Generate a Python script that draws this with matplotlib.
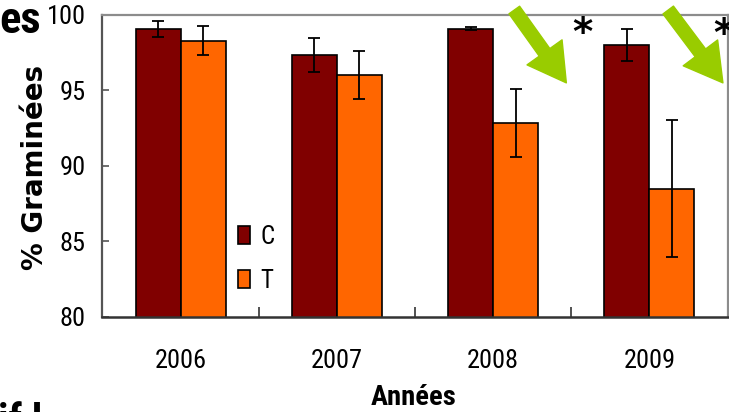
import numpy as np
import matplotlib
matplotlib.use("Agg")
import matplotlib.pyplot as plt

# data
years = ["2006", "2007", "2008", "2009"]
c_vals = [99.08, 97.35, 99.08, 98.02]
c_err = [0.52, 1.1, 0.1, 1.05]
t_vals = [98.3, 96.04, 92.86, 88.48]
t_err = [0.94, 1.6, 2.25, 4.53]
yticks = [80, 85, 90, 95, 100]

narrow = ["Roboto Condensed", "DejaVu Sans"]

maroon = "#800000"
orange = "#FF6600"
green = "#99CC00"

fig = plt.figure(figsize=(7.29, 4.12), dpi=100)
ax = fig.add_axes([0.1406, 0.2313, 0.8575, 0.7323])

x = np.arange(len(years))
w = 0.288
ax.bar(x - w/2, c_vals, w, color=maroon, edgecolor="black", linewidth=1.2, label="C", zorder=2)
ax.bar(x + w/2, t_vals, w, color=orange, edgecolor="black", linewidth=1.2, label="T", zorder=2)
ax.errorbar(x - w/2, c_vals, yerr=c_err, fmt="none", ecolor="black", elinewidth=1.3, capsize=4.3, capthick=1.3, zorder=3)
ax.errorbar(x + w/2, t_vals, yerr=t_err, fmt="none", ecolor="black", elinewidth=1.3, capsize=4.3, capthick=1.3, zorder=3)

ax.set_xlim(-0.5, 3.5)
ax.set_ylim(80, 100)
ax.set_yticks(yticks)
ax.set_yticklabels([str(v) for v in yticks], family=narrow, fontsize=19)
ax.set_xticks(x)
ax.set_xticklabels(years, family=narrow, fontsize=19)
ax.set_xticks([0.5, 1.5, 2.5], minor=True)
ax.tick_params(axis="x", which="major", length=0, pad=23)
ax.tick_params(axis="x", which="minor", direction="in", length=7, width=1.2, color="#333333")
ax.tick_params(axis="y", direction="in", length=5, width=1.2, color="#555555", pad=12)

for s in ["top", "right"]:
    ax.spines[s].set_color("#8c8c8c")
    ax.spines[s].set_linewidth(1.6)
ax.spines["left"].set_color("#555555")
ax.spines["left"].set_linewidth(1.6)
ax.spines["bottom"].set_color("#333333")
ax.spines["bottom"].set_linewidth(1.8)

ax.set_ylabel("% Graminées", fontsize=20, fontweight="bold", family="DejaVu Sans")
ax.yaxis.set_label_coords(-0.086, 0.494)
ax.set_xlabel("Années", fontsize=20.5, fontweight="bold", family=narrow)
ax.xaxis.set_label_coords(0.498, -0.222)

leg = ax.legend(loc="upper left", bbox_to_anchor=(0.217, 0.305), frameon=False,
                prop={"family": narrow, "size": 18}, handlelength=0.48, handleheight=0.72,
                handletextpad=0.4, labelspacing=0.8, borderpad=0, borderaxespad=0)

# significance arrows and stars
for tail, tip, star in [((2.135, 100.33), (2.468, 95.5), (2.57, 98.75)),
                        ((3.12, 100.33), (3.47, 95.5), (3.47, 98.65))]:
    ax.annotate("", xy=tip, xytext=tail, annotation_clip=False,
                arrowprops=dict(arrowstyle="simple,head_length=1.35,head_width=1.55,tail_width=0.47",
                                mutation_scale=20, color=green, shrinkA=0, shrinkB=0))
    ax.text(star[0], star[1], "*", fontsize=28, fontweight="bold", ha="center", va="center",
            clip_on=False)

# cut-off text from the slide
fig.text(41/729, 1 - 33/412, "es", fontsize=32, fontweight="bold", family=narrow,
         ha="right", va="baseline")
fig.text(-2/729, 1 - 402/412, "if l", fontsize=30, fontweight="bold", family=narrow,
         ha="left", va="top")

fig.savefig("out.png", dpi=100)
